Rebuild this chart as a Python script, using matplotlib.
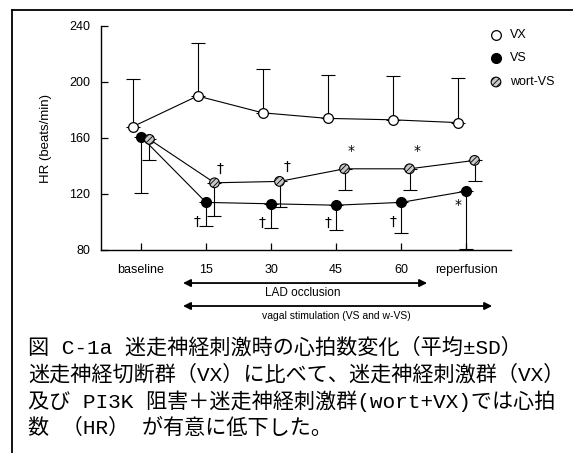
import matplotlib
matplotlib.use('Agg')
import matplotlib.pyplot as plt
from matplotlib.lines import Line2D
import numpy as np

plt.rcParams['font.family'] = ['Liberation Sans', 'DejaVu Sans']
plt.rcParams['hatch.linewidth'] = 0.6

# ── data ──
categories = ['baseline', '15', '30', '45', '60', 'reperfusion']
vx_mean   = [168, 190, 178, 174, 173, 171]
vx_sd     = [34, 38, 31, 31, 31, 32]
vs_mean   = [161, 114, 113, 112, 114, 122]
vs_sd     = [40, 17, 17, 18, 22, 41]
wort_mean = [159, 128, 129, 138, 138, 144]
wort_sd   = [15, 24, 18, 15, 15, 15]

# significance marks: (symbol, x, y)
marks = [('†', 1.22, 138), ('†', 2.25, 139), ('*', 3.23, 151), ('*', 4.25, 151),
         ('†', 0.86, 100), ('†', 1.86, 99), ('†', 2.88, 99), ('†', 3.88, 100),
         ('*', 4.88, 112)]

caption = ['図 C-1a 迷走神経刺激時の心拍数変化（平均±SD）',
           '迷走神経切断群（VX）に比べて、迷走神経刺激群（VX）',
           '及び PI3K 阻害＋迷走神経刺激群(wort+VX)では心拍',
           '数 （HR） が有意に低下した。']

W, H = 573, 453
fig = plt.figure(figsize=(W / 100, H / 100), dpi=100, facecolor='white')
ax = fig.add_axes([101 / W, 1 - 250 / H, 410 / W, 224 / H])

x = np.arange(len(categories))
off = 0.13
lw = 0.8
ms = 7

# VX (open), error bars upward
ax.errorbar(x - off, vx_mean, yerr=[np.zeros(6), vx_sd], fmt='none', ecolor='k',
            elinewidth=lw, capsize=5, capthick=lw, zorder=2)
ax.plot(x - off, vx_mean, '-', color='k', lw=lw, zorder=2)
ax.plot(x - off, vx_mean, 'o', mfc='white', mec='k', mew=0.9, ms=ms, zorder=6)

# VS (filled), error bars downward
ax.errorbar(x, vs_mean, yerr=[vs_sd, np.zeros(6)], fmt='none', ecolor='k',
            elinewidth=lw, capsize=5, capthick=lw, zorder=2)
ax.plot(x, vs_mean, '-', color='k', lw=lw, zorder=2)
ax.plot(x, vs_mean, 'o', mfc='black', mec='k', ms=ms, zorder=4)

# wort-VS (hatched), error bars downward
ax.errorbar(x + off, wort_mean, yerr=[wort_sd, np.zeros(6)], fmt='none', ecolor='k',
            elinewidth=lw, capsize=5, capthick=lw, zorder=2)
ax.plot(x + off, wort_mean, '-', color='k', lw=lw, zorder=2)
ax.scatter(x + off, wort_mean, s=ms ** 2, facecolor='#c8c8c8', edgecolor='k',
           linewidth=0.8, hatch='//////', zorder=5)

for sym, mx, my in marks:
    ax.text(mx, my, sym, ha='center', va='center', fontsize=10,
            family=['DejaVu Sans'], zorder=7)

ax.set_xlim(-0.615, 5.69)
ax.set_ylim(80, 240)
ax.set_yticks([80, 120, 160, 200, 240])
ax.set_xticks(x)
ax.set_xticklabels(categories)
ax.tick_params(axis='both', direction='in', length=5, width=0.9, labelsize=9)
ax.tick_params(axis='y', pad=8)
ax.tick_params(axis='x', pad=10)
for s in ['top', 'right']:
    ax.spines[s].set_visible(False)
for s in ['left', 'bottom']:
    ax.spines[s].set_linewidth(1.0)
ax.set_ylabel('HR (beats/min)', fontsize=9.5, labelpad=12)

# occlusion / stimulation arrows
ax.annotate('', xy=(0.646, 56.4), xytext=(4.40, 56.4), annotation_clip=False,
            arrowprops=dict(arrowstyle='<|-|>', color='k', lw=1.3,
                            mutation_scale=11, shrinkA=0, shrinkB=0))
ax.text(2.49, 49.3, 'LAD occlusion', ha='center', va='center', fontsize=8.5,
        clip_on=False)
ax.annotate('', xy=(0.646, 40), xytext=(5.40, 40), annotation_clip=False,
            arrowprops=dict(arrowstyle='<|-|>', color='k', lw=1.3,
                            mutation_scale=11, shrinkA=0, shrinkB=0))
ax.text(3.0, 32.9, 'vagal stimulation (VS and w-VS)', ha='center', va='center',
        fontsize=7.5, clip_on=False)

# legend drawn by hand
leg_y = [1 - 35 / H, 1 - 58 / H, 1 - 82 / H]
lx = 496 / W
fig.add_artist(Line2D([lx], [leg_y[0]], marker='o', mfc='white', mec='k', mew=0.9, ms=ms))
fig.add_artist(Line2D([lx], [leg_y[1]], marker='o', mfc='black', mec='k', ms=ms))
ax_leg = fig.add_axes([0, 0, 1, 1], facecolor='none')
ax_leg.set_xlim(0, 1); ax_leg.set_ylim(0, 1); ax_leg.axis('off')
ax_leg.scatter([lx], [leg_y[2]], s=ms ** 2, facecolor='#c8c8c8', edgecolor='k',
               linewidth=0.8, hatch='//////')
for lab, yy in zip(['VX', 'VS', 'wort-VS'], leg_y):
    fig.text(510 / W, yy, lab, ha='left', va='center', fontsize=9)

# frame
fig.add_artist(Line2D([12 / W, 1], [1 - 10 / H, 1 - 10 / H], color='k', lw=1.3))
fig.add_artist(Line2D([12 / W, 12 / W], [0, 1 - 10 / H], color='k', lw=1.3))

# caption
cap_y = [347, 374, 401, 428]
for line, yy in zip(caption, cap_y):
    fig.text(28 / W, 1 - yy / H, line, ha='left', va='center', fontsize=15.2,
             family=['Liberation Mono', 'Noto Sans CJK JP'])

fig.savefig('out.png', dpi=100, facecolor='white')
